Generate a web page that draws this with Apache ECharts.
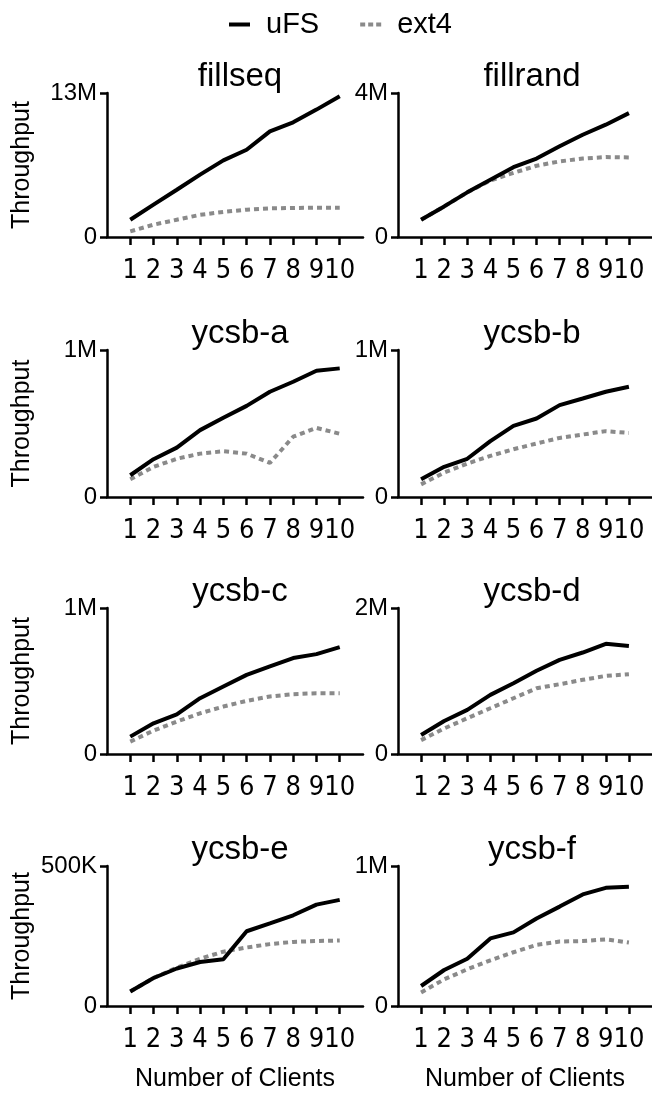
<!DOCTYPE html>
<html>
<head>
<meta charset="utf-8">
<script src="https://cdn.jsdelivr.net/npm/echarts@6/dist/echarts.min.js"></script>
<style>
  html, body { margin: 0; padding: 0; background: #fff; }
  #chart { width: 652px; height: 1093px; }
</style>
</head>
<body>
<div id="chart"></div>
<script>
// 数据
var clients = [1, 2, 3, 4, 5, 6, 7, 8, 9, 10];
var panels = ['fillseq', 'fillrand', 'ycsb-a', 'ycsb-b', 'ycsb-c', 'ycsb-d', 'ycsb-e', 'ycsb-f'];
var yMax = [13e6, 4e6, 1e6, 1e6, 1e6, 2e6, 5e5, 1e6];

var fillseqUFS = [1.56e6, 2.92e6, 4.27e6, 5.63e6, 6.92e6, 7.88e6, 9.54e6, 10.35e6, 11.5e6, 12.7e6];
var fillseqExt4 = [0.51e6, 1.11e6, 1.56e6, 2.0e6, 2.26e6, 2.47e6, 2.59e6, 2.62e6, 2.65e6, 2.65e6];
var fillrandUFS = [0.48e6, 0.85e6, 1.24e6, 1.59e6, 1.94e6, 2.18e6, 2.52e6, 2.84e6, 3.12e6, 3.44e6];
var fillrandExt4 = [0.48e6, 0.85e6, 1.24e6, 1.57e6, 1.78e6, 1.98e6, 2.10e6, 2.18e6, 2.22e6, 2.21e6];
var ycsbAUFS = [148e3, 257e3, 336e3, 455e3, 539e3, 620e3, 716e3, 784e3, 859e3, 875e3];
var ycsbAExt4 = [120e3, 205e3, 260e3, 295e3, 311e3, 295e3, 232e3, 410e3, 470e3, 430e3];
var ycsbBUFS = [120e3, 205e3, 260e3, 380e3, 484e3, 534e3, 625e3, 670e3, 716e3, 750e3];
var ycsbBExt4 = [86e3, 166e3, 227e3, 280e3, 325e3, 364e3, 402e3, 425e3, 448e3, 436e3];
var ycsbCUFS = [119e3, 210e3, 272e3, 382e3, 462e3, 542e3, 600e3, 657e3, 684e3, 732e3];
var ycsbCExt4 = [85e3, 160e3, 222e3, 279e3, 325e3, 364e3, 394e3, 410e3, 416e3, 416e3];
var ycsbDUFS = [0.26e6, 0.453e6, 0.604e6, 0.81e6, 0.97e6, 1.14e6, 1.29e6, 1.39e6, 1.51e6, 1.48e6];
var ycsbDExt4 = [0.19e6, 0.35e6, 0.49e6, 0.627e6, 0.764e6, 0.90e6, 0.956e6, 1.016e6, 1.07e6, 1.094e6];
var ycsbEUFS = [52e3, 100e3, 134e3, 157e3, 167e3, 267e3, 295e3, 324e3, 362e3, 379e3];
var ycsbEExt4 = [52e3, 100e3, 137e3, 169e3, 194e3, 209e3, 221e3, 229e3, 232e3, 234e3];
var ycsbFUFS = [143e3, 257e3, 338e3, 483e3, 526e3, 625e3, 710e3, 797e3, 844e3, 851e3];
var ycsbFExt4 = [97e3, 190e3, 262e3, 326e3, 384e3, 437e3, 460e3, 464e3, 476e3, 453e3];

var ufsData = [fillseqUFS, fillrandUFS, ycsbAUFS, ycsbBUFS, ycsbCUFS, ycsbDUFS, ycsbEUFS, ycsbFUFS];
var ext4Data = [fillseqExt4, fillrandExt4, ycsbAExt4, ycsbBExt4, ycsbCExt4, ycsbDExt4, ycsbEExt4, ycsbFExt4];

window.onload = function () {
    var chart = echarts.init(document.getElementById('chart'));
    var font = '"Liberation Sans", Arial, sans-serif';
    var narrow = '"DejaVu Sans Condensed", "Liberation Sans", sans-serif';

    // 布局 (像素)
    var colLeft = [107, 398];
    var colWidth = [256, 258];
    var rowTop = [93, 350, 608, 866];
    var rowHeight = [144, 147, 146, 145];

    function fmt(v) {
        if (v === 0) return '0';
        if (v >= 1e6) return (v / 1e6) + 'M';
        return (v / 1e3) + 'K';
    }
    function pairs(arr) {
        return clients.map(function (c, i) { return [c, arr[i]]; });
    }

    var grid = [], xAxis = [], yAxis = [], series = [], title = [];
    for (var i = 0; i < panels.length; i++) {
        var col = i % 2, row = Math.floor(i / 2);
        grid.push({
            left: colLeft[col], top: rowTop[row],
            width: colWidth[col], height: rowHeight[row]
        });
        title.push({
            text: panels[i],
            left: colLeft[col] + colWidth[col] / 2,
            top: rowTop[row] - 38,
            textAlign: 'center',
            textStyle: { fontFamily: font, fontSize: 33, fontWeight: 'normal', color: '#000' }
        });
        xAxis.push({
            type: 'value', gridIndex: i,
            min: 0, max: 11,
            name: row === 3 ? 'Number of Clients' : '',
            nameLocation: 'middle', nameGap: 61,
            nameTextStyle: { fontFamily: font, fontSize: 25, color: '#000' },
            axisLine: { lineStyle: { color: '#000', width: 2.5 } },
            axisTick: { show: true, length: 8, customValues: clients, lineStyle: { color: '#000', width: 2.5 } },
            axisLabel: { customValues: clients, margin: 20, hideOverlap: false, fontFamily: narrow, fontSize: 27, color: '#000' },
            splitLine: { show: false }
        });
        yAxis.push({
            type: 'value', gridIndex: i,
            min: 0, max: yMax[i], interval: yMax[i],
            name: col === 0 ? 'Throughput' : '',
            nameLocation: 'middle', nameGap: 72,
            nameTextStyle: { fontFamily: font, fontSize: 25, color: '#000' },
            axisLine: { show: true, lineStyle: { color: '#000', width: 2.5 } },
            axisTick: { show: true, length: 7, lineStyle: { color: '#000', width: 2.5 } },
            axisLabel: { margin: 10, fontFamily: font, fontSize: 24, color: '#000', formatter: fmt },
            splitLine: { show: false }
        });
        series.push({
            name: 'ext4', type: 'line', xAxisIndex: i, yAxisIndex: i,
            data: pairs(ext4Data[i]), symbol: 'none', z: 2,
            lineStyle: { color: '#8a8a8a', width: 4, type: [5, 4], cap: 'butt' },
            itemStyle: { color: '#8a8a8a' }
        });
        series.push({
            name: 'uFS', type: 'line', xAxisIndex: i, yAxisIndex: i,
            data: pairs(ufsData[i]), symbol: 'none', z: 3,
            lineStyle: { color: '#000', width: 4 },
            itemStyle: { color: '#000' }
        });
    }

    chart.setOption({
        animation: false,
        title: title,
        legend: {
            data: [
                { name: 'uFS', icon: 'rect' },
                { name: 'ext4', icon: 'path://M0,0h5v4h-5z M8,0h5v4h-5z M16,0h5v4h-5z' }
            ],
            left: 229, top: 10, padding: 0,
            itemWidth: 21, itemHeight: 4, itemGap: 41,
            textStyle: { fontFamily: font, fontSize: 29, color: '#000', padding: [0, 0, 0, 11] }
        },
        grid: grid,
        xAxis: xAxis,
        yAxis: yAxis,
        series: series
    });
};
</script>
</body>
</html>
